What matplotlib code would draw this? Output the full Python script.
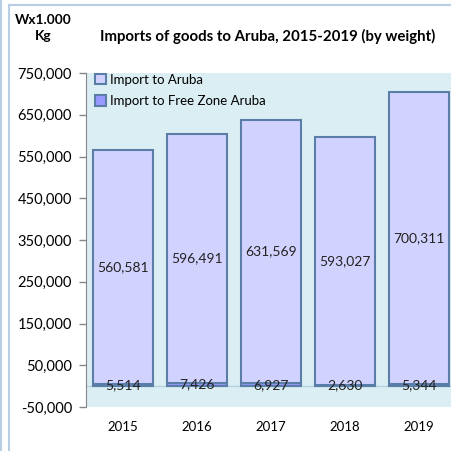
import numpy as np
import matplotlib.pyplot as plt
from matplotlib.lines import Line2D
from matplotlib.ticker import FuncFormatter

plt.rcParams["font.family"] = ["Lato", "DejaVu Sans"]

years = ["2015", "2016", "2017", "2018", "2019"]
free_zone = [5514, 7426, 6927, 2630, 5344]
aruba = [560581, 596491, 631569, 593027, 700311]

fig = plt.figure(figsize=(4.52, 4.51), dpi=100)
ax = fig.add_axes([86 / 452, 1 - 407 / 451, 370 / 452, 334 / 451])
ax.set_facecolor("#DBEEF3")

x = np.arange(len(years))
width = 0.81
edge = "#5A7EA8"

fz = ax.bar(x, free_zone, width, color="#9999FF", edgecolor=edge,
            linewidth=1.5, label="Import to Free Zone Aruba", zorder=3)
ar = ax.bar(x, aruba, width, bottom=free_zone, color="#D2D2FF",
            edgecolor=edge, linewidth=1.5, label="Import to Aruba", zorder=3)

ax.bar_label(ar, labels=[f"{v:,}" for v in aruba], label_type="center",
             fontsize=10, color="#222222")
ax.bar_label(fz, labels=[f"{v:,}" for v in free_zone], label_type="center",
             fontsize=10, color="#222222", zorder=4)

ax.axhline(0, color="#B4D3E0", linewidth=1, zorder=2)

ax.set_xlim(-0.5, 4.5)
ax.set_ylim(-50000, 750000)
ax.set_yticks(np.arange(-50000, 750001, 100000))
ax.yaxis.set_major_formatter(FuncFormatter(lambda v, p: f"{int(v):,}"))
ax.set_xticks(x)
ax.set_xticklabels(years)
ax.tick_params(axis="x", length=0, pad=10, labelsize=9.5)
ax.tick_params(axis="y", length=5, width=1, color="#868686",
               labelsize=10.5, pad=5)

for side in ["top", "right", "bottom"]:
    ax.spines[side].set_visible(False)
ax.spines["left"].set_color("#868686")

handles = [ar, fz]
ax.legend(handles, ["Import to Aruba", "Import to Free Zone Aruba"],
          loc="upper left", bbox_to_anchor=(0.0, 1.025), frameon=False,
          fontsize=9.5, handlelength=0.8, handleheight=0.8,
          handletextpad=0.3, labelspacing=0.7, borderaxespad=0.3)

fig.text(268 / 452, 1 - 36 / 451, "Imports of goods to Aruba, 2015-2019 (by weight)",
         ha="center", va="center", fontsize=10.8, fontweight="bold")
fig.text(43 / 452, 1 - 28 / 451, "Wx1.000\nKg", ha="center", va="center",
         fontsize=9.8, fontweight="bold", linespacing=1.4)

# chart frame edges
fig.add_artist(Line2D([8.5 / 452, 8.5 / 452], [0, 1 - 5 / 451],
                      transform=fig.transFigure, color="#B9CDE5", linewidth=1.5))
fig.add_artist(Line2D([8.5 / 452, 1], [1 - 5 / 451, 1 - 5 / 451],
                      transform=fig.transFigure, color="#B9CDE5", linewidth=1.5))
fig.add_artist(Line2D([1.5 / 452, 1.5 / 452], [0, 1],
                      transform=fig.transFigure, color="#B9CDE5", linewidth=1.5))

fig.savefig("out.png", dpi=100)
